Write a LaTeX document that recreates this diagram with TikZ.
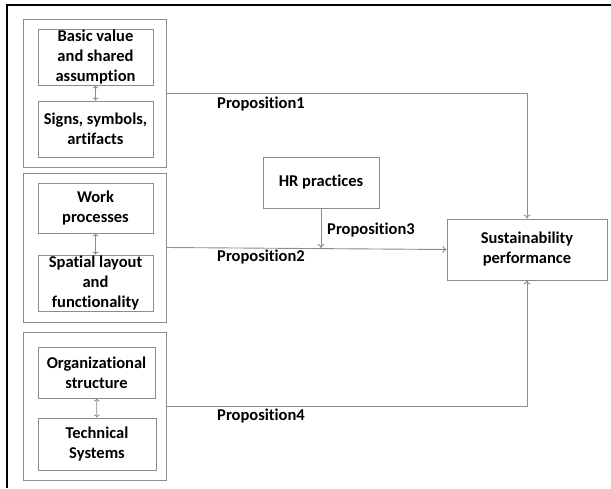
\documentclass[tikz,border=0pt]{standalone}
\usepackage{fontspec}
\setmainfont[Ligatures={NoCommon}]{Carlito}
\usepackage{tikz}
\usetikzlibrary{arrows.meta}
\usetikzlibrary{calc}
\definecolor{boxgray}{RGB}{140,140,140}

\begin{document}
\begin{tikzpicture}[x=1pt, y=-1pt,
	box/.style={draw=boxgray, line width=1pt, align=center, inner sep=0pt, font=\fontsize{16.5}{20}\selectfont\bfseries},
	inbox/.style={box, minimum width=115pt, minimum height=56pt},
	grp/.style={draw=boxgray, line width=1pt, minimum width=143pt, minimum height=148pt, inner sep=0pt},
	lbl/.style={font=\fontsize{16.5}{18}\selectfont\bfseries, inner sep=0pt},
	link/.style={draw=boxgray, line width=0.9pt, -{To[length=4pt,width=7pt]}},
	twoway/.style={draw=boxgray, line width=0.8pt, {To[length=3pt,width=6pt]}-{To[length=3pt,width=6pt]}}
]
\useasboundingbox (0,0) rectangle (611,488);
\draw[line width=2pt] (611,5) -- (7,5) -- (7,488);

\node[grp] (g1) at (94.5,93) {};
\node[grp, minimum height=149pt] (g2) at (94.5,247.5) {};
\node[grp] (g3) at (94.5,406) {};

\node[inbox] (value) at (95.5,57) {Basic value\\and shared\\assumption};
\node[inbox] (signs) at (95.5,129) {Signs, symbols,\\artifacts};
\node[inbox, minimum height=50pt] (work) at (95.5,208) {Work\\processes};
\node[inbox] (spatial) at (95.5,283) {Spatial layout\\and\\functionality};
\node[inbox, minimum width=117pt, minimum height=51pt] (org) at (96.5,372.5) {Organizational\\structure};
\node[inbox, minimum width=118pt, minimum height=52pt] (tech) at (97,444) {Technical\\Systems};

\node[box, minimum width=116pt, minimum height=51pt] (hr) at (321,182.5) {HR practices};
\node[box, minimum width=160pt, minimum height=61pt] (sp) at (527,249.5) {Sustainability\\performance};

\path[twoway]
(value) edge (signs)
(work) edge (spatial)
(org) edge (tech)
;

\coordinate (meet) at (321,248);
\draw[link] (g1.east) -| (sp.north);
\draw[link] (g2.east) -- (sp.west);
\draw[link] (g3.east) -| (sp.south);
\draw[link] (hr.south) -- (meet);

\node[lbl] (p1) at (261,104) {Proposition1};
\node[lbl] (p2) at (261,257) {Proposition2};
\node[lbl] (p3) at (371,230) {Proposition3};
\node[lbl] (p4) at (261,416) {Proposition4};
\end{tikzpicture}
\end{document}
